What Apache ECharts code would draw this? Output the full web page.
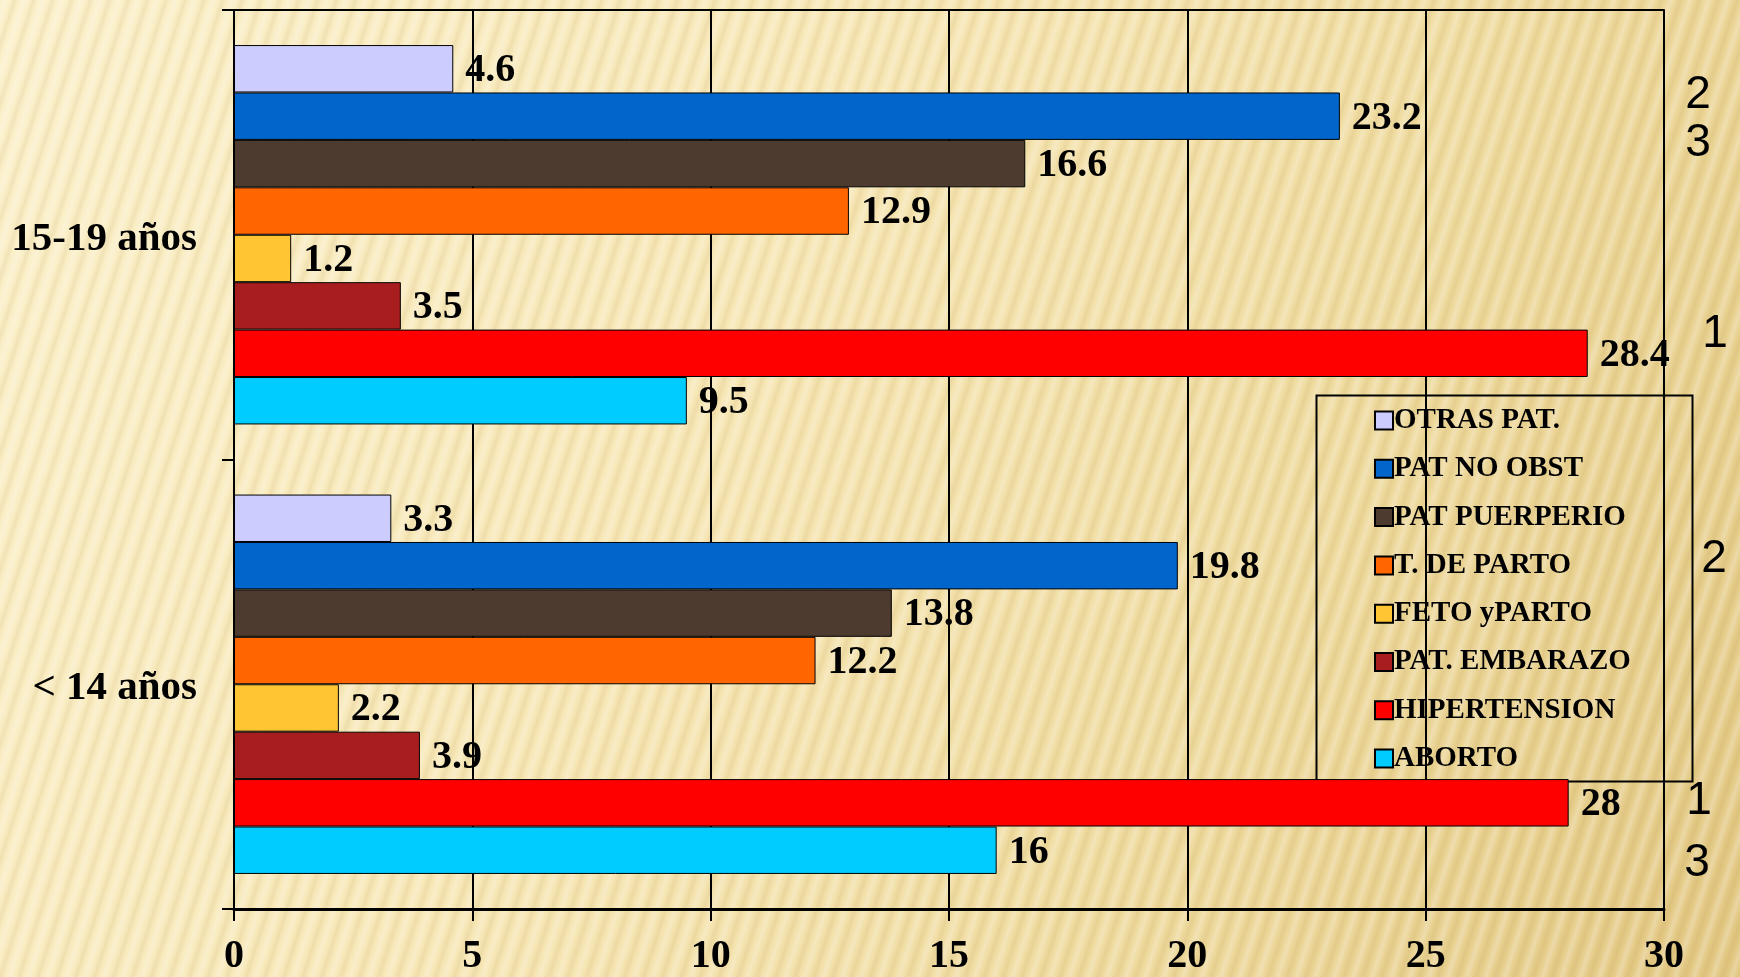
<!DOCTYPE html>
<html>
<head>
<meta charset="utf-8">
<script src="https://cdn.jsdelivr.net/npm/echarts@6/dist/echarts.min.js"></script>
<style>
  html, body { margin: 0; padding: 0; }
  body {
    width: 1740px; height: 977px; overflow: hidden;
    background:
      repeating-linear-gradient(108deg,
        rgba(255,255,255,0) 0px, rgba(255,255,255,0.26) 5px,
        rgba(255,255,255,0) 10px, rgba(150,110,30,0.09) 14px,
        rgba(255,255,255,0) 18px),
      linear-gradient(115deg, #FBF0CA 0%, #F7E7B6 40%, #EFDB9F 70%, #E2C782 100%);
  }
  #chart { width: 1740px; height: 977px; }
</style>
</head>
<body>
<div id="chart"></div>
<script>
// Age groups (bottom to top on the category axis)
const ageGroups = ['< 14 años', '15-19 años'];

// Causes, listed top-down as in the legend
const causes = ['OTRAS PAT.', 'PAT NO OBST', 'PAT PUERPERIO', 'T. DE PARTO',
                'FETO yPARTO', 'PAT. EMBARAZO', 'HIPERTENSION', 'ABORTO'];
const causeColors = ['#CCCCFF', '#0066CC', '#4D3B30', '#FF6600',
                     '#FFC533', '#A81E1E', '#FF0000', '#00CCFF'];

// Percentages per cause: [< 14 años, 15-19 años]
const otrasPat     = [3.3, 4.6];
const patNoObst    = [19.8, 23.2];
const patPuerperio = [13.8, 16.6];
const tDeParto     = [12.2, 12.9];
const fetoYParto   = [2.2, 1.2];
const patEmbarazo  = [3.9, 3.5];
const hipertension = [28, 28.4];
const aborto       = [16, 9.5];
const causeValues = [otrasPat, patNoObst, patPuerperio, tDeParto,
                     fetoYParto, patEmbarazo, hipertension, aborto];

// Value axis ticks
const xTicks = [0, 5, 10, 15, 20, 25, 30];

// Rank markers written beside the bars
const rankMarks = [
  { text: '2', x: 1698, y: 95 },
  { text: '3', x: 1698, y: 143 },
  { text: '1', x: 1715, y: 334 },
  { text: '2', x: 1714, y: 559 },
  { text: '1', x: 1699, y: 801 },
  { text: '3', x: 1697, y: 863 }
];

const serif = '"Liberation Serif", "Times New Roman", serif';

const chart = echarts.init(document.getElementById('chart'), null, { renderer: 'canvas' });

const series = causes.map((name, i) => ({
  name: name,
  type: 'bar',
  xAxisIndex: 0,
  yAxisIndex: 0,
  data: causeValues[i],
  barGap: '0%',
  barCategoryGap: '15.6%',
  itemStyle: { color: causeColors[i], borderColor: '#000', borderWidth: 1 },
  label: {
    show: true,
    position: 'right',
    distance: 12,
    offset: [0, 2],
    color: '#000',
    fontFamily: serif,
    fontWeight: 'bold',
    fontSize: 40
  },
  emphasis: { disabled: true }
}));

chart.setOption({
  backgroundColor: 'transparent',
  animation: false,
  grid: { left: 234, right: 76, top: 10, bottom: 67, containLabel: false },
  xAxis: [
    {
      type: 'value', position: 'bottom',
      min: xTicks[0], max: xTicks[xTicks.length - 1], interval: 5,
      axisLine: { show: true, lineStyle: { color: '#000', width: 3 } },
      axisTick: { show: true, length: 12, lineStyle: { color: '#000', width: 2 } },
      splitLine: { show: true, lineStyle: { color: '#000', width: 2 } },
      axisLabel: {
        margin: 28, color: '#000', fontFamily: serif, fontWeight: 'bold', fontSize: 40
      }
    },
    {
      type: 'value', position: 'top',
      min: xTicks[0], max: xTicks[xTicks.length - 1], interval: 5,
      axisLine: { show: true, lineStyle: { color: '#000', width: 2 } },
      axisTick: { show: false }, axisLabel: { show: false }, splitLine: { show: false }
    }
  ],
  yAxis: {
    type: 'category',
    data: ageGroups,
    axisLine: { show: true, lineStyle: { color: '#000', width: 2 } },
    axisTick: { show: true, length: 12, lineStyle: { color: '#000', width: 2 } },
    axisLabel: {
      margin: 37,
      formatter: '{g|{value}}',
      rich: {
        g: {
          color: '#000', fontFamily: serif, fontWeight: 'bold', fontSize: 41,
          padding: [9, 0, 0, 0]
        }
      }
    }
  },
  legend: {
    orient: 'vertical',
    left: 1369, top: 401,
    data: causes,
    icon: 'rect',
    itemWidth: 18, itemHeight: 18, itemGap: 19.3,
    textStyle: {
      color: '#000', fontFamily: serif, fontWeight: 'bold', fontSize: 29,
      lineHeight: 29, padding: [0, 0, 0, -4]
    },
    selectedMode: false
  },
  graphic: [
    {
      type: 'rect', left: 1314, top: 393, silent: true,
      shape: { width: 376, height: 386 },
      style: { fill: 'none', stroke: '#000', lineWidth: 2 }
    }
  ].concat(rankMarks.map(m => ({
    type: 'text', x: m.x, y: m.y, silent: true,
    style: {
      text: m.text, fill: '#000', align: 'center', verticalAlign: 'middle',
      font: '46px "Liberation Sans", Arial, sans-serif'
    }
  }))),
  series: series
});
</script>
</body>
</html>
